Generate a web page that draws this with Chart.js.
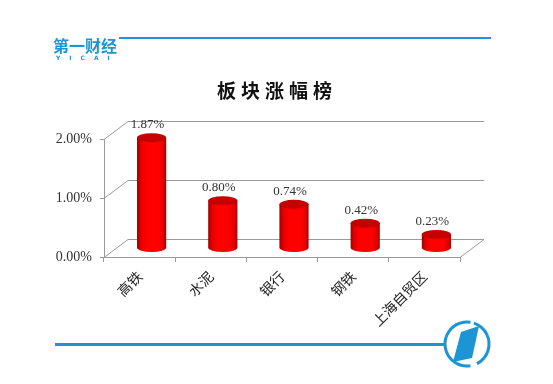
<!DOCTYPE html>
<html>
<head>
<meta charset="utf-8">
<script src="https://cdn.jsdelivr.net/npm/chart.js@4"></script>
<style>
  html, body { margin: 0; padding: 0; background: #fff; }
  #wrap { width: 553px; height: 384px; }
</style>
</head>
<body>
<div id="wrap"><canvas id="chart"></canvas></div>
<script>
  const categories = ['高铁', '水泥', '银行', '钢铁', '上海自贸区'];
  const changes = [1.87, 0.80, 0.74, 0.42, 0.23];
  const yTicks = [0, 1, 2];
  const chartTitle = '板块涨幅榜';

  const BLUE = '#1b95d3';
  const GRID = '#9a9a9a';
  const DEPTH = { dx: 24, dy: -18 };

  // back wall + floor lines, drawn behind the bars
  const backGrid = {
    id: 'backGrid',
    beforeDatasetsDraw(chart) {
      const { ctx, chartArea, scales: { y } } = chart;
      ctx.save();
      ctx.strokeStyle = GRID;
      ctx.lineWidth = 1;
      yTicks.forEach(v => {
        const py = Math.round(y.getPixelForValue(v)) + 0.5;
        ctx.beginPath();
        ctx.moveTo(chartArea.left, py);
        ctx.lineTo(chartArea.left + DEPTH.dx, py + DEPTH.dy);
        ctx.lineTo(chartArea.right + DEPTH.dx, py + DEPTH.dy);
        ctx.stroke();
      });
      const base = Math.round(y.getPixelForValue(0)) + 0.5;
      ctx.beginPath();
      ctx.moveTo(chartArea.right, base);
      ctx.lineTo(chartArea.right + DEPTH.dx, base + DEPTH.dy);
      ctx.stroke();
      ctx.restore();
    }
  };

  // red cylinders in the middle of the depth, plus value labels
  const cylinders = {
    id: 'cylinders',
    afterDatasetsDraw(chart) {
      const { ctx } = chart;
      const meta = chart.getDatasetMeta(0);
      ctx.save();
      ctx.translate(DEPTH.dx / 2, DEPTH.dy / 2);
      meta.data.forEach((bar, i) => {
        const { x, y, base, width } = bar.getProps(['x', 'y', 'base', 'width'], true);
        const rx = width / 2, ry = 4.5;
        const left = x - rx;

        const body = ctx.createLinearGradient(left, 0, left + width, 0);
        body.addColorStop(0, '#9c0000');
        body.addColorStop(0.12, '#e00000');
        body.addColorStop(0.3, '#ff0000');
        body.addColorStop(0.75, '#ff0000');
        body.addColorStop(0.92, '#d80000');
        body.addColorStop(1, '#a00000');

        ctx.beginPath();
        ctx.moveTo(left, y);
        ctx.lineTo(left, base);
        ctx.ellipse(x, base, rx, ry, 0, Math.PI, 0, true);
        ctx.lineTo(left + width, y);
        ctx.closePath();
        ctx.fillStyle = body;
        ctx.fill();

        ctx.beginPath();
        ctx.ellipse(x, y, rx, ry, 0, 0, Math.PI * 2);
        ctx.fillStyle = '#c40000';
        ctx.fill();

        ctx.fillStyle = '#333';
        ctx.font = '13px "Liberation Serif", serif';
        ctx.textAlign = 'center';
        ctx.textBaseline = 'middle';
        ctx.fillText(changes[i].toFixed(2) + '%', x - 4, y - 13);
      });
      ctx.restore();
    }
  };

  // page decoration: title, header logo, footer line and badge
  const pageDecor = {
    id: 'pageDecor',
    afterDraw(chart) {
      const { ctx } = chart;
      ctx.save();

      ctx.fillStyle = '#111';
      ctx.font = 'bold 19px "Noto Sans CJK SC", sans-serif';
      ctx.letterSpacing = '5px';
      ctx.textAlign = 'center';
      ctx.textBaseline = 'middle';
      ctx.fillText(chartTitle, 277, 91);
      ctx.letterSpacing = '0px';

      ctx.fillStyle = BLUE;
      ctx.font = 'bold 16px "Noto Sans CJK SC", sans-serif';
      ctx.textAlign = 'left';
      ctx.textBaseline = 'alphabetic';
      ctx.fillText('第一财经', 53, 52);
      ctx.font = 'bold 6px "DejaVu Sans", sans-serif';
      ctx.letterSpacing = '9px';
      ctx.fillText('YICAI', 56, 60);
      ctx.letterSpacing = '0px';

      ctx.strokeStyle = BLUE;
      ctx.lineWidth = 2;
      ctx.beginPath();
      ctx.moveTo(119, 38);
      ctx.lineTo(491, 38);
      ctx.stroke();

      ctx.lineWidth = 3;
      ctx.beginPath();
      ctx.moveTo(55, 344.5);
      ctx.lineTo(444, 344.5);
      ctx.stroke();

      const cx = 467, cy = 344, r = 22;
      ctx.beginPath();
      ctx.arc(cx, cy, r, -1.25, 0.35 * Math.PI);
      ctx.stroke();
      ctx.beginPath();
      ctx.arc(cx, cy, r, 0.45 * Math.PI, 1.55 * Math.PI);
      ctx.stroke();

      ctx.fillStyle = BLUE;
      ctx.beginPath();
      ctx.moveTo(cx - 6, cy - 12);
      ctx.lineTo(cx + 12, cy - 18);
      ctx.lineTo(cx + 5, cy + 14);
      ctx.lineTo(cx - 14, cy + 18);
      ctx.closePath();
      ctx.fill();

      ctx.restore();
    }
  };

  new Chart(document.getElementById('chart').getContext('2d'), {
    type: 'bar',
    data: {
      labels: categories,
      datasets: [{
        data: changes,
        backgroundColor: 'rgba(0,0,0,0)',
        borderWidth: 0,
        categoryPercentage: 1,
        barPercentage: 0.41
      }]
    },
    options: {
      responsive: true,
      maintainAspectRatio: false,
      animation: false,
      events: [],
      layout: {
        padding: { left: 0, top: 139, right: 93, bottom: 0 }
      },
      scales: {
        x: {
          afterFit: scale => { scale.height = 127; },
          grid: {
            offset: true,
            drawOnChartArea: false,
            tickLength: 5,
            color: GRID
          },
          border: { display: true, color: GRID },
          ticks: {
            minRotation: 45,
            maxRotation: 45,
            padding: 6,
            color: '#222',
            font: { family: '"Noto Sans CJK SC", sans-serif', size: 14 }
          }
        },
        y: {
          min: 0,
          max: 2,
          afterFit: scale => { scale.width = 104; },
          afterBuildTicks: scale => { scale.ticks = yTicks.map(v => ({ value: v })); },
          grid: {
            drawOnChartArea: false,
            tickLength: 4,
            color: GRID
          },
          border: { display: true, color: GRID },
          ticks: {
            padding: 8,
            color: '#333',
            font: { family: '"Liberation Serif", serif', size: 14 },
            callback: v => v.toFixed(2) + '%'
          }
        }
      },
      plugins: {
        legend: { display: false },
        tooltip: { enabled: false }
      }
    },
    plugins: [backGrid, cylinders, pageDecor]
  });
</script>
</body>
</html>
